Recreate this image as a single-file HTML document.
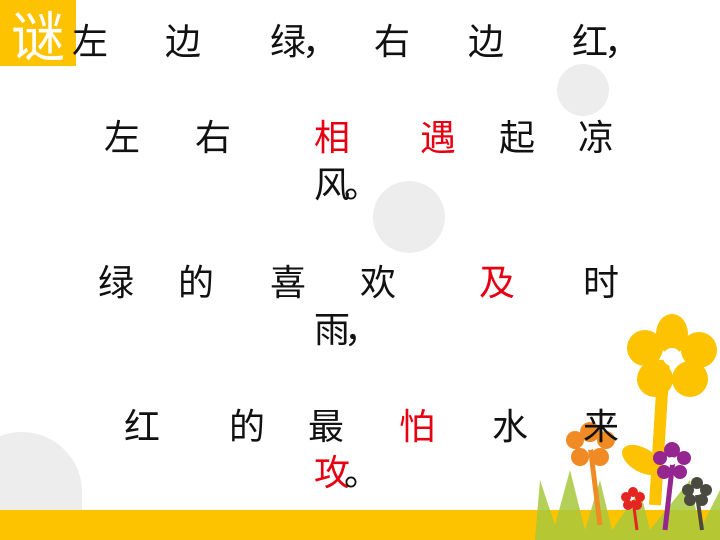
<!DOCTYPE html>
<html style="width:720px;height:540px;overflow:hidden;margin:0"><head><meta charset="utf-8"><style>
body{margin:0;width:720px;height:540px;overflow:hidden;background:#fff;position:relative;font-family:"Liberation Sans","Noto Sans CJK SC",sans-serif}
.c{position:absolute;font-size:36px;line-height:40px;width:36px;text-align:center;color:#111}
.r{color:#e60012}
.circ{position:absolute;border-radius:50%;background:#ededed}
#clip{position:absolute;left:0;top:0;width:720px;height:540px;overflow:hidden}
</style></head><body>
<div id="clip">
<div class="circ" style="left:557px;top:64px;width:52px;height:52px"></div>
<div class="circ" style="left:373px;top:181px;width:72px;height:72px"></div>
<div class="circ" style="left:-38px;top:432px;width:120px;height:100px;border-radius:60px 60px 0 0"></div>
<div style="position:absolute;left:0;top:510px;width:720px;height:30px;background:#fdc300"></div>
</div>
<div style="position:absolute;left:0;top:0;width:76px;height:66px;background:#fdc300;color:#fff;font-size:54px;line-height:66px;text-align:center;font-family:'Noto Sans CJK SC',sans-serif">谜</div>
<svg width="720" height="540" style="position:absolute;left:0;top:0">
<g fill="#a8c83c" opacity="0.85">
<path d="M535 540 L540 480 L555 525 L570 470 L585 530 L600 480 L612 530 L640 490 L650 530 L690 480 L700 530 L720 490 L720 540Z"/>
</g>
<path d="M664 360 L655 505" stroke="#fdc300" stroke-width="12" fill="none"/>
<ellipse cx="642" cy="460" rx="22" ry="12" fill="#fdc300" transform="rotate(30 642 460)"/>
<g fill="#fdc300">
<ellipse cx="672" cy="334" rx="16" ry="20"/><circle cx="699" cy="350" r="18"/><circle cx="690" cy="379" r="18"/><circle cx="655" cy="379" r="18"/><circle cx="645" cy="348" r="18"/></g>
<circle cx="672" cy="357" r="9" fill="#fff"/>
<path d="M590 445 L600 525" stroke="#f08a24" stroke-width="5"/>
<g fill="#f08a24"><circle cx="590" cy="432" r="10"/><circle cx="606" cy="440" r="9"/><circle cx="600" cy="457" r="9"/><circle cx="580" cy="457" r="9"/><circle cx="575" cy="440" r="9"/></g>
<circle cx="590" cy="446" r="4" fill="#fff"/>
<path d="M673 460 L665 530" stroke="#96268f" stroke-width="5"/>
<g fill="#96268f"><circle cx="672" cy="450" r="8"/><circle cx="684" cy="458" r="7"/><circle cx="680" cy="472" r="7"/><circle cx="664" cy="472" r="7"/><circle cx="660" cy="458" r="7"/></g>
<circle cx="672" cy="461" r="4" fill="#fff"/>
<path d="M697 495 L702 530" stroke="#4a4a40" stroke-width="4"/>
<g fill="#4a4a40"><circle cx="697" cy="483" r="6"/><circle cx="706" cy="490" r="6"/><circle cx="702" cy="500" r="6"/><circle cx="690" cy="500" r="6"/><circle cx="688" cy="490" r="6"/></g>
<circle cx="697" cy="492" r="3" fill="#fff"/>
<path d="M633 500 L637 530" stroke="#e52521" stroke-width="3"/>
<g fill="#e52521"><circle cx="633" cy="492" r="5"/><circle cx="640" cy="497" r="5"/><circle cx="637" cy="505" r="5"/><circle cx="628" cy="505" r="5"/><circle cx="626" cy="497" r="5"/></g>
</svg>
<div>
<span class="c" style="left:72px;top:22px">左</span><span class="c" style="left:165px;top:22px">边</span><span class="c" style="left:270px;top:22px">绿</span><span class="c" style="left:302px;top:22px">，</span><span class="c" style="left:374px;top:22px">右</span><span class="c" style="left:468px;top:22px">边</span><span class="c" style="left:572px;top:22px">红</span><span class="c" style="left:604px;top:22px">，</span>
<span class="c" style="left:104px;top:118px">左</span><span class="c" style="left:195px;top:118px">右</span><span class="c r" style="left:314px;top:118px">相</span><span class="c r" style="left:420px;top:118px">遇</span><span class="c" style="left:499px;top:118px">起</span><span class="c" style="left:578px;top:118px">凉</span>
<span class="c" style="left:314px;top:165px">风</span><span class="c" style="left:344px;top:165px">。</span>
<span class="c" style="left:98px;top:263px">绿</span><span class="c" style="left:178px;top:263px">的</span><span class="c" style="left:270px;top:263px">喜</span><span class="c" style="left:360px;top:263px">欢</span><span class="c r" style="left:479px;top:263px">及</span><span class="c" style="left:583px;top:263px">时</span>
<span class="c" style="left:314px;top:310px">雨</span><span class="c" style="left:344px;top:310px">，</span>
<span class="c" style="left:124px;top:407px">红</span><span class="c" style="left:229px;top:407px">的</span><span class="c" style="left:308px;top:407px">最</span><span class="c r" style="left:399px;top:407px">怕</span><span class="c" style="left:492px;top:407px">水</span><span class="c" style="left:583px;top:407px">来</span>
<span class="c r" style="left:314px;top:453px">攻</span><span class="c" style="left:344px;top:453px">。</span>
</div>
</body></html>
